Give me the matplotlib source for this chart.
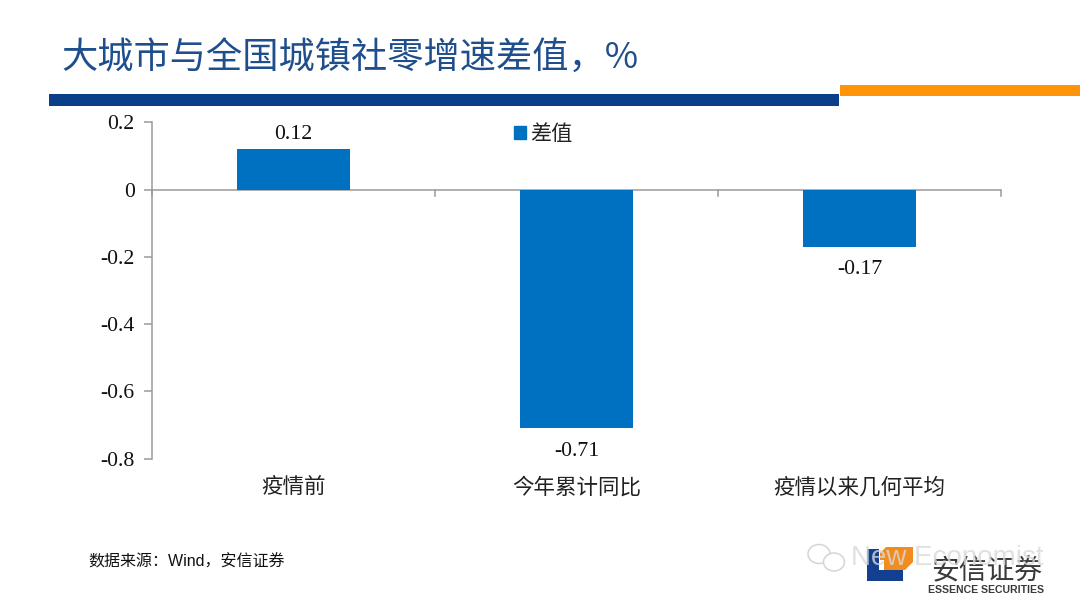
import matplotlib
matplotlib.use("Agg")
import matplotlib.pyplot as plt
from matplotlib.patches import Rectangle, Polygon, Ellipse

plt.rcParams['font.family'] = ['Noto Sans CJK SC', 'DejaVu Sans']

title = "大城市与全国城镇社零增速差值，%"
source = "数据来源：Wind，安信证券"
categories = ["疫情前", "今年累计同比", "疫情以来几何平均"]
series_name = "差值"
values = [0.12, -0.71, -0.17]
value_labels = ["0.12", "-0.71", "-0.17"]
yticks = [0.2, 0, -0.2, -0.4, -0.6, -0.8]
ytick_labels = ["0.2", "0", "-0.2", "-0.4", "-0.6", "-0.8"]

W, H = 1080, 604
SERIF = ['Liberation Serif', 'DejaVu Serif']
SANS = ['Liberation Sans', 'Noto Sans CJK SC', 'DejaVu Sans']
fig = plt.figure(figsize=(W / 100, H / 100), dpi=100, facecolor='white')

def fx(x): return x / W
def fy(y): return 1 - y / H

def frect(x0, y0, x1, y1, color, z=1):
    fig.patches.append(Rectangle((fx(x0), fy(y1)), (x1 - x0) / W, (y1 - y0) / H,
                                 transform=fig.transFigure, facecolor=color,
                                 edgecolor='none', zorder=z))

# header bars
frect(49, 94, 839, 106, '#0B3F8A')
frect(840, 85, 1080, 96, '#FF9408')
fig.text(fx(61.5), fy(59), title, fontsize=26.1, color='#1F4E8C', va='center', ha='left')

# chart
ax = fig.add_axes([fx(152), fy(458.7), (1001 - 152) / W, (458.7 - 122.4) / H])
ax.set_xlim(-0.5, 2.5)
ax.set_ylim(-0.8, 0.2)
ax.patch.set_alpha(0)
xs = list(range(len(categories)))
ax.bar(xs, values, width=0.4, color='#0070C0', zorder=2)

for s in ['top', 'right', 'bottom']:
    ax.spines[s].set_visible(False)
ax.spines['left'].set_color('#9A9A9A')
ax.spines['left'].set_linewidth(1.1)
ax.axhline(0, color='#9A9A9A', lw=1.1, zorder=1)

ax.set_yticks(yticks)
ax.set_yticklabels(ytick_labels, fontsize=15.7, family=SERIF, color='#111111')
ax.tick_params(axis='y', length=6, width=1.1, color='#9A9A9A', pad=6.5)
ax.set_xticks([])

# category separators hanging from the zero line
for b in [-0.5, 0.5, 1.5, 2.5]:
    ax.plot([b, b], [0, -0.018], color='#9A9A9A', lw=1.1, clip_on=False, zorder=1)

for x, c in zip(xs, categories):
    ax.annotate(c, (x, -0.8), xytext=(0, -20.5), textcoords='offset points', ha='center',
                va='center', fontsize=15.5, color='#222222', annotation_clip=False)

for x, v, t in zip(xs, values, value_labels):
    off = 10.5 if v > 0 else -16.5
    ax.annotate(t, (x, v), xytext=(0, off), textcoords='offset points', ha='center',
                va='center', fontsize=15.7, family=SERIF, color='#111111', annotation_clip=False)

# legend
handle = Rectangle((0, 0), 1, 1, color='#0070C0')
fig.legend([handle], [series_name], loc='center left', bbox_to_anchor=(fx(514), fy(134)),
           frameon=False, fontsize=15.2, handlelength=0.55, handleheight=0.55,
           handletextpad=0.2, borderpad=0, borderaxespad=0, labelcolor='#222222')

# footer
fig.text(fx(88), fy(562), source, fontsize=11.5, color='#111111', va='center', ha='left',
         family=SANS)

# logo
frect(867, 549, 903, 581, '#123F8F', 3)
frect(879, 549, 903, 570, 'white', 4)
fig.patches.append(Polygon([(fx(880), fy(553)), (fx(886), fy(547)), (fx(913), fy(547)),
                            (fx(913), fy(562)), (fx(905), fy(570)), (fx(884), fy(570)),
                            (fx(884), fy(560)), (fx(880), fy(560))],
                           closed=True, transform=fig.transFigure, facecolor='#F28C1E',
                           edgecolor='none', zorder=5))
fig.text(fx(987), fy(571), "安信证券", fontsize=20, color='#3A3A3A', ha='center', va='center', zorder=6)
fig.text(fx(986.5), fy(590), "ESSENCE SECURITIES", fontsize=7.6, color='#3A3A3A', ha='center', va='center',
         family=SANS, fontweight='bold', zorder=6)

# watermark
fig.text(fx(851), fy(558), "New Economist", fontsize=20, color='#D9D9D9', alpha=0.8, ha='left',
         va='center', family=SANS, zorder=7)
for cx, cy, w, h in [(819, 554, 22, 19), (834, 562, 21, 18)]:
    fig.patches.append(Ellipse((fx(cx), fy(cy)), w / W, h / H, transform=fig.transFigure,
                               facecolor='white', edgecolor='#D5D5D5', lw=1.1, zorder=7))

fig.savefig('out.png', dpi=100, facecolor='white')
